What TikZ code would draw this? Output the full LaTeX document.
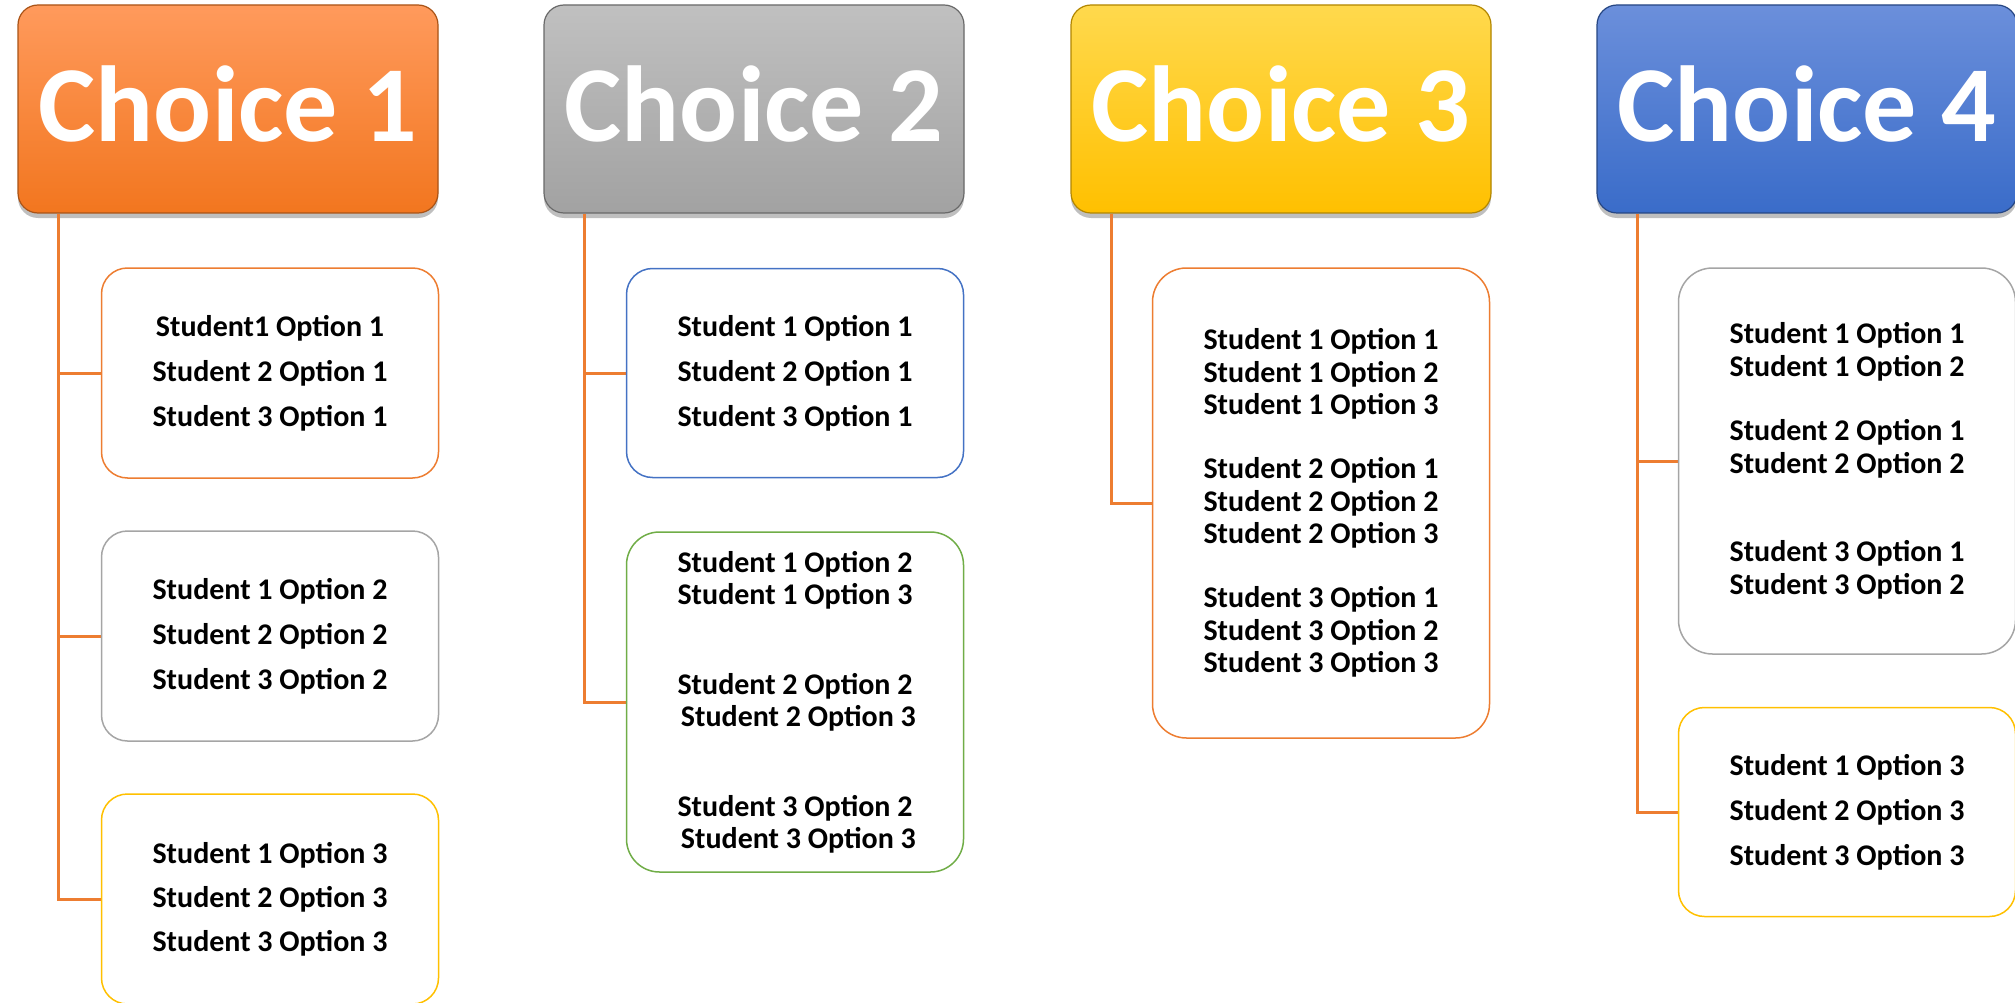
\documentclass[tikz,border=0pt]{standalone}
\usepackage{fontspec}
\setmainfont{Carlito}
\usetikzlibrary{shadows}
\definecolor{linkorange}{HTML}{ED7D31}
\definecolor{boxorange}{HTML}{ED7D31}
\definecolor{boxgray}{HTML}{A5A5A5}
\definecolor{boxyellow}{HTML}{FFC000}
\definecolor{boxblue}{HTML}{4472C4}
\definecolor{boxgreen}{HTML}{70AD47}
\definecolor{orangetop}{HTML}{FF9A5C}
\definecolor{orangebot}{HTML}{F2761F}
\definecolor{graytop}{HTML}{C0C0C0}
\definecolor{graybot}{HTML}{A2A2A2}
\definecolor{yellowtop}{HTML}{FFD94D}
\definecolor{yellowbot}{HTML}{FFC000}
\definecolor{bluetop}{HTML}{6B8FDB}
\definecolor{bluebot}{HTML}{3A6CC9}
\begin{document}
\begin{tikzpicture}[x=1pt,y=-1pt,
  choice/.style n args={3}{rounded corners=20pt, minimum width=420pt, minimum height=208pt,
    top color=#1, bottom color=#2, draw=#3, line width=1.2pt, text=white,
    font=\fontsize{108}{120}\selectfont\bfseries, text depth=10pt,
    drop shadow={shadow xshift=0pt, shadow yshift=-5pt, opacity=.5}},
  optbox/.style={draw=#1, fill=white, line width=1.5pt, rounded corners=26pt,
    minimum width=337pt, align=center},
  plain/.style={font=\fontsize{30}{#1}\selectfont\bfseries},
  link/.style={draw=linkorange, line width=3pt}]
\useasboundingbox (0,0) rectangle (2015,1003);
% headers
\node[choice={orangetop}{orangebot}{orangebot!70!black}] (h1) at (228,109) {Choice 1};
\node[choice={graytop}{graybot}{graybot!65!black}] (h2) at (754,109) {Choice 2};
\node[choice={yellowtop}{yellowbot}{yellowbot!70!black}] (h3) at (1281,109) {Choice 3};
\node[choice={bluetop}{bluebot}{bluebot!65!black}] (h4) at (1807,109) {Choice 4};
% connectors
\draw[link] ([xshift=41pt]h1.south west) |- (270,373) coordinate (j1a);
\draw[link] ([xshift=41pt]h1.south west) |- (270,636) coordinate (j1b);
\draw[link] ([xshift=41pt]h1.south west) |- (270,899) coordinate (j1c);
\draw[link] ([xshift=41pt]h2.south west) |- (795,373) coordinate (j2a);
\draw[link] ([xshift=41pt]h2.south west) |- (795,702) coordinate (j2b);
\draw[link] ([xshift=41pt]h3.south west) |- (1321,503) coordinate (j3a);
\draw[link] ([xshift=41pt]h4.south west) |- (1847,461) coordinate (j4a);
\draw[link] ([xshift=41pt]h4.south west) |- (1847,812) coordinate (j4b);
% choice 1
\node[optbox=boxorange, plain=45, minimum height=210pt] (c1a) at (j1a)
  {Student1 Option 1\\Student 2 Option 1\\Student 3 Option 1};
\node[optbox=boxgray, plain=45, minimum height=210pt] (c1b) at (j1b)
  {Student 1 Option 2\\Student 2 Option 2\\Student 3 Option 2};
\node[optbox=boxyellow, plain=44, minimum height=210pt] (c1c) at (j1c)
  {Student 1 Option 3\\Student 2 Option 3\\Student 3 Option 3};
% choice 2
\node[optbox=boxblue, plain=45, minimum height=209pt] (c2a) at (j2a)
  {Student 1 Option 1\\Student 2 Option 1\\Student 3 Option 1};
\node[optbox=boxgreen, plain=32, minimum height=340pt, rounded corners=33pt] (c2b) at (j2b)
  {Student 1 Option 2\\Student 1 Option 3\\[58pt]
   Student 2 Option 2\\\ Student 2 Option 3\\[58pt]
   Student 3 Option 2\\\ Student 3 Option 3};
% choice 3
\node[optbox=boxorange, plain=32.3, minimum height=470pt, rounded corners=34pt] (c3a) at (j3a)
  {Student 1 Option 1\\Student 1 Option 2\\Student 1 Option 3\\[32pt]
   Student 2 Option 1\\Student 2 Option 2\\Student 2 Option 3\\[32pt]
   Student 3 Option 1\\Student 3 Option 2\\Student 3 Option 3};
% choice 4
\node[optbox=boxgray, plain=32.5, minimum height=386pt, rounded corners=34pt] (c4a) at (j4a)
  {Student 1 Option 1\\Student 1 Option 2\\[32pt]
   Student 2 Option 1\\Student 2 Option 2\\[56pt]
   Student 3 Option 1\\Student 3 Option 2};
\node[optbox=boxyellow, plain=45, minimum height=209pt] (c4b) at (j4b)
  {Student 1 Option 3\\Student 2 Option 3\\Student 3 Option 3};
\end{tikzpicture}
\end{document}
